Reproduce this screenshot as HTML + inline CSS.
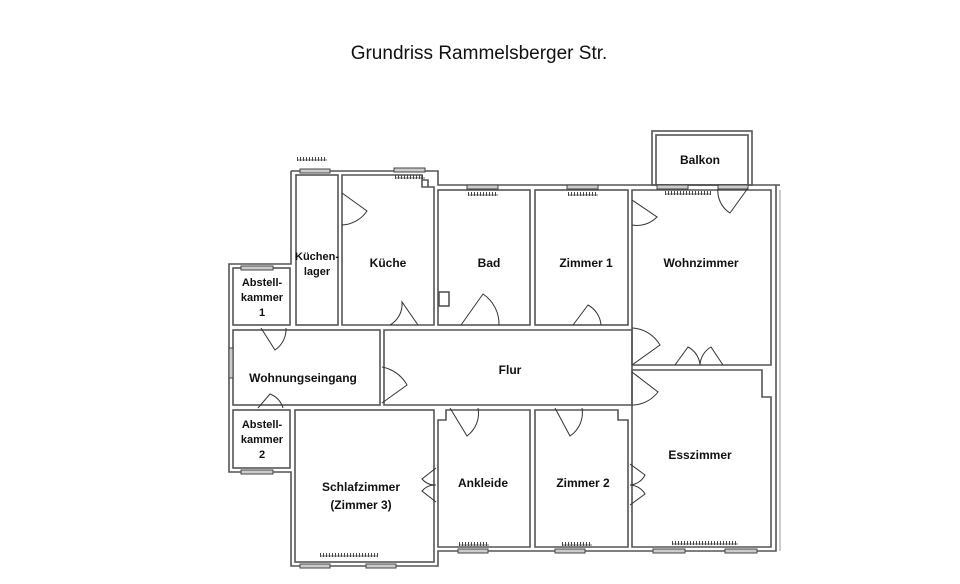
<!DOCTYPE html>
<html><head><meta charset="utf-8"><style>
html,body{margin:0;padding:0;background:#fff;}
svg{display:block;}
text{font-family:"Liberation Sans",Arial,sans-serif;fill:#111;}
.l{font-weight:bold;font-size:12px;text-anchor:middle;}
.s{font-size:11px;}
</style></head><body>
<svg width="960" height="584" viewBox="0 0 960 584" xmlns="http://www.w3.org/2000/svg">
<text x="479" y="59" font-size="19" text-anchor="middle">Grundriss Rammelsberger Str.</text>
<g fill="none" stroke="#555" stroke-width="1.6">
<path d="M291,171 H438 V185 H780 M291,171 V264 H229 V472 H291 V566 H438 V551 H776 V185"/>
<line x1="780" y1="190" x2="780" y2="551" stroke="#999" stroke-width="1"/>
<rect x="652" y="131" width="100" height="54"/>
<rect x="656" y="135" width="92" height="50"/>
<rect x="296" y="175" width="42" height="150"/>
<path d="M342,175 H422 V187 H434 V325 H342 Z"/>
<path d="M422,180 H428 V187"/>
<rect x="438" y="190" width="92" height="135"/>
<rect x="535" y="190" width="93" height="135"/>
<path d="M632,190 H771 V365 H632 Z"/>
<rect x="233" y="268" width="57" height="57"/>
<rect x="233" y="330" width="147" height="75"/>
<path d="M384,330 H632 V405 H384 Z"/>
<rect x="233" y="410" width="57" height="58"/>
<rect x="295" y="410" width="139" height="152"/>
<path d="M446,410 H530 V547 H438 V420 H446 Z"/>
<path d="M535,410 H618 V420 H628 V547 H535 Z"/>
<path d="M632,370 H762 V397 H771 V547 H632 Z"/>
<rect x="439" y="292" width="10" height="14"/>
</g>
<g fill="#ccc" stroke="#444" stroke-width="1">
<rect x="300" y="169" width="30" height="4"/>
<rect x="394" y="168" width="31" height="4"/>
<rect x="467" y="185" width="31" height="4"/>
<rect x="567" y="185" width="31" height="4"/>
<rect x="657" y="185" width="31" height="4"/>
<rect x="718" y="185" width="30" height="4"/>
<rect x="241" y="266" width="32" height="4"/>
<rect x="229" y="348" width="4" height="30"/>
<rect x="241" y="470" width="32" height="4"/>
<rect x="300" y="564" width="30" height="4"/>
<rect x="366" y="564" width="30" height="4"/>
<rect x="458" y="549" width="30" height="4"/>
<rect x="555" y="549" width="30" height="4"/>
<rect x="653" y="549" width="32" height="4"/>
<rect x="725" y="549" width="32" height="4"/>
</g>
<g stroke="#444" stroke-width="4" stroke-dasharray="1 2">
<line x1="297" y1="159" x2="327" y2="159"/>
<line x1="395" y1="177" x2="425" y2="177"/>
<line x1="468" y1="194" x2="498" y2="194"/>
<line x1="568" y1="194" x2="598" y2="194"/>
<line x1="665" y1="193" x2="711" y2="193"/>
<line x1="320" y1="555" x2="378" y2="555"/>
<line x1="459" y1="544" x2="489" y2="544"/>
<line x1="562" y1="544" x2="592" y2="544"/>
<line x1="672" y1="543" x2="738" y2="543"/>
</g>
<g stroke="#444" stroke-width="0.8">
<line x1="297" y1="160" x2="327" y2="160"/>
<line x1="395" y1="178" x2="425" y2="178"/>
<line x1="468" y1="195" x2="498" y2="195"/>
<line x1="568" y1="195" x2="598" y2="195"/>
<line x1="665" y1="194" x2="711" y2="194"/>
<line x1="320" y1="556" x2="378" y2="556"/>
<line x1="459" y1="545" x2="489" y2="545"/>
<line x1="562" y1="545" x2="592" y2="545"/>
<line x1="672" y1="544" x2="738" y2="544"/>
</g>
<g fill="none" stroke="#333" stroke-width="1">
<path d="M342,193 L367,211 A32,32 0 0 1 342,225"/>
<path d="M418,325 L402,302 A24,24 0 0 1 390,325"/>
<path d="M461,325 L483,294 A36,36 0 0 1 499,325"/>
<path d="M573,325 L588,305 A25,25 0 0 1 601,325"/>
<path d="M632,200 L657,217 A28,28 0 0 1 632,225"/>
<path d="M748,188 L730,213 A26,26 0 0 1 718,188"/>
<path d="M632,365 L660,345 A34,34 0 0 0 632,328"/>
<path d="M675,365 L688,347 A22,22 0 0 1 700,365 M723,365 L711,347 A22,22 0 0 0 700,365"/>
<path d="M632,372 L658,392 A33,33 0 0 1 632,405"/>
<path d="M261,328 L275,350 A25,25 0 0 0 286,328"/>
<path d="M382,403 L407,385 A36,36 0 0 0 382,367"/>
<path d="M258,408 L270,394 A22,22 0 0 1 283,408"/>
<path d="M450,408 L467,436 A28,28 0 0 0 478,408"/>
<path d="M555,408 L570,436 A28,28 0 0 0 582,408"/>
<path d="M436,468 L422,479 A17,17 0 0 0 436,485 M436,502 L422,491 A17,17 0 0 1 436,485"/>
<path d="M630,464 L645,475 A18,18 0 0 1 630,485 M630,505 L645,494 A18,18 0 0 0 630,485"/>
</g>
<text class="l" x="700" y="164">Balkon</text>
<text class="l s" x="317" y="260">Küchen-</text>
<text class="l s" x="317" y="275">lager</text>
<text class="l" x="388" y="267">Küche</text>
<text class="l" x="489" y="267">Bad</text>
<text class="l" x="586" y="267">Zimmer 1</text>
<text class="l" x="701" y="267">Wohnzimmer</text>
<text class="l s" x="262" y="286">Abstell-</text>
<text class="l s" x="262" y="301">kammer</text>
<text class="l s" x="262" y="316">1</text>
<text class="l" x="303" y="382">Wohnungseingang</text>
<text class="l" x="510" y="374">Flur</text>
<text class="l s" x="262" y="428">Abstell-</text>
<text class="l s" x="262" y="443">kammer</text>
<text class="l s" x="262" y="458">2</text>
<text class="l" x="700" y="459">Esszimmer</text>
<text class="l" x="483" y="487">Ankleide</text>
<text class="l" x="583" y="487">Zimmer 2</text>
<text class="l" x="361" y="491">Schlafzimmer</text>
<text class="l" x="361" y="509">(Zimmer 3)</text>
</svg>
</body></html>
